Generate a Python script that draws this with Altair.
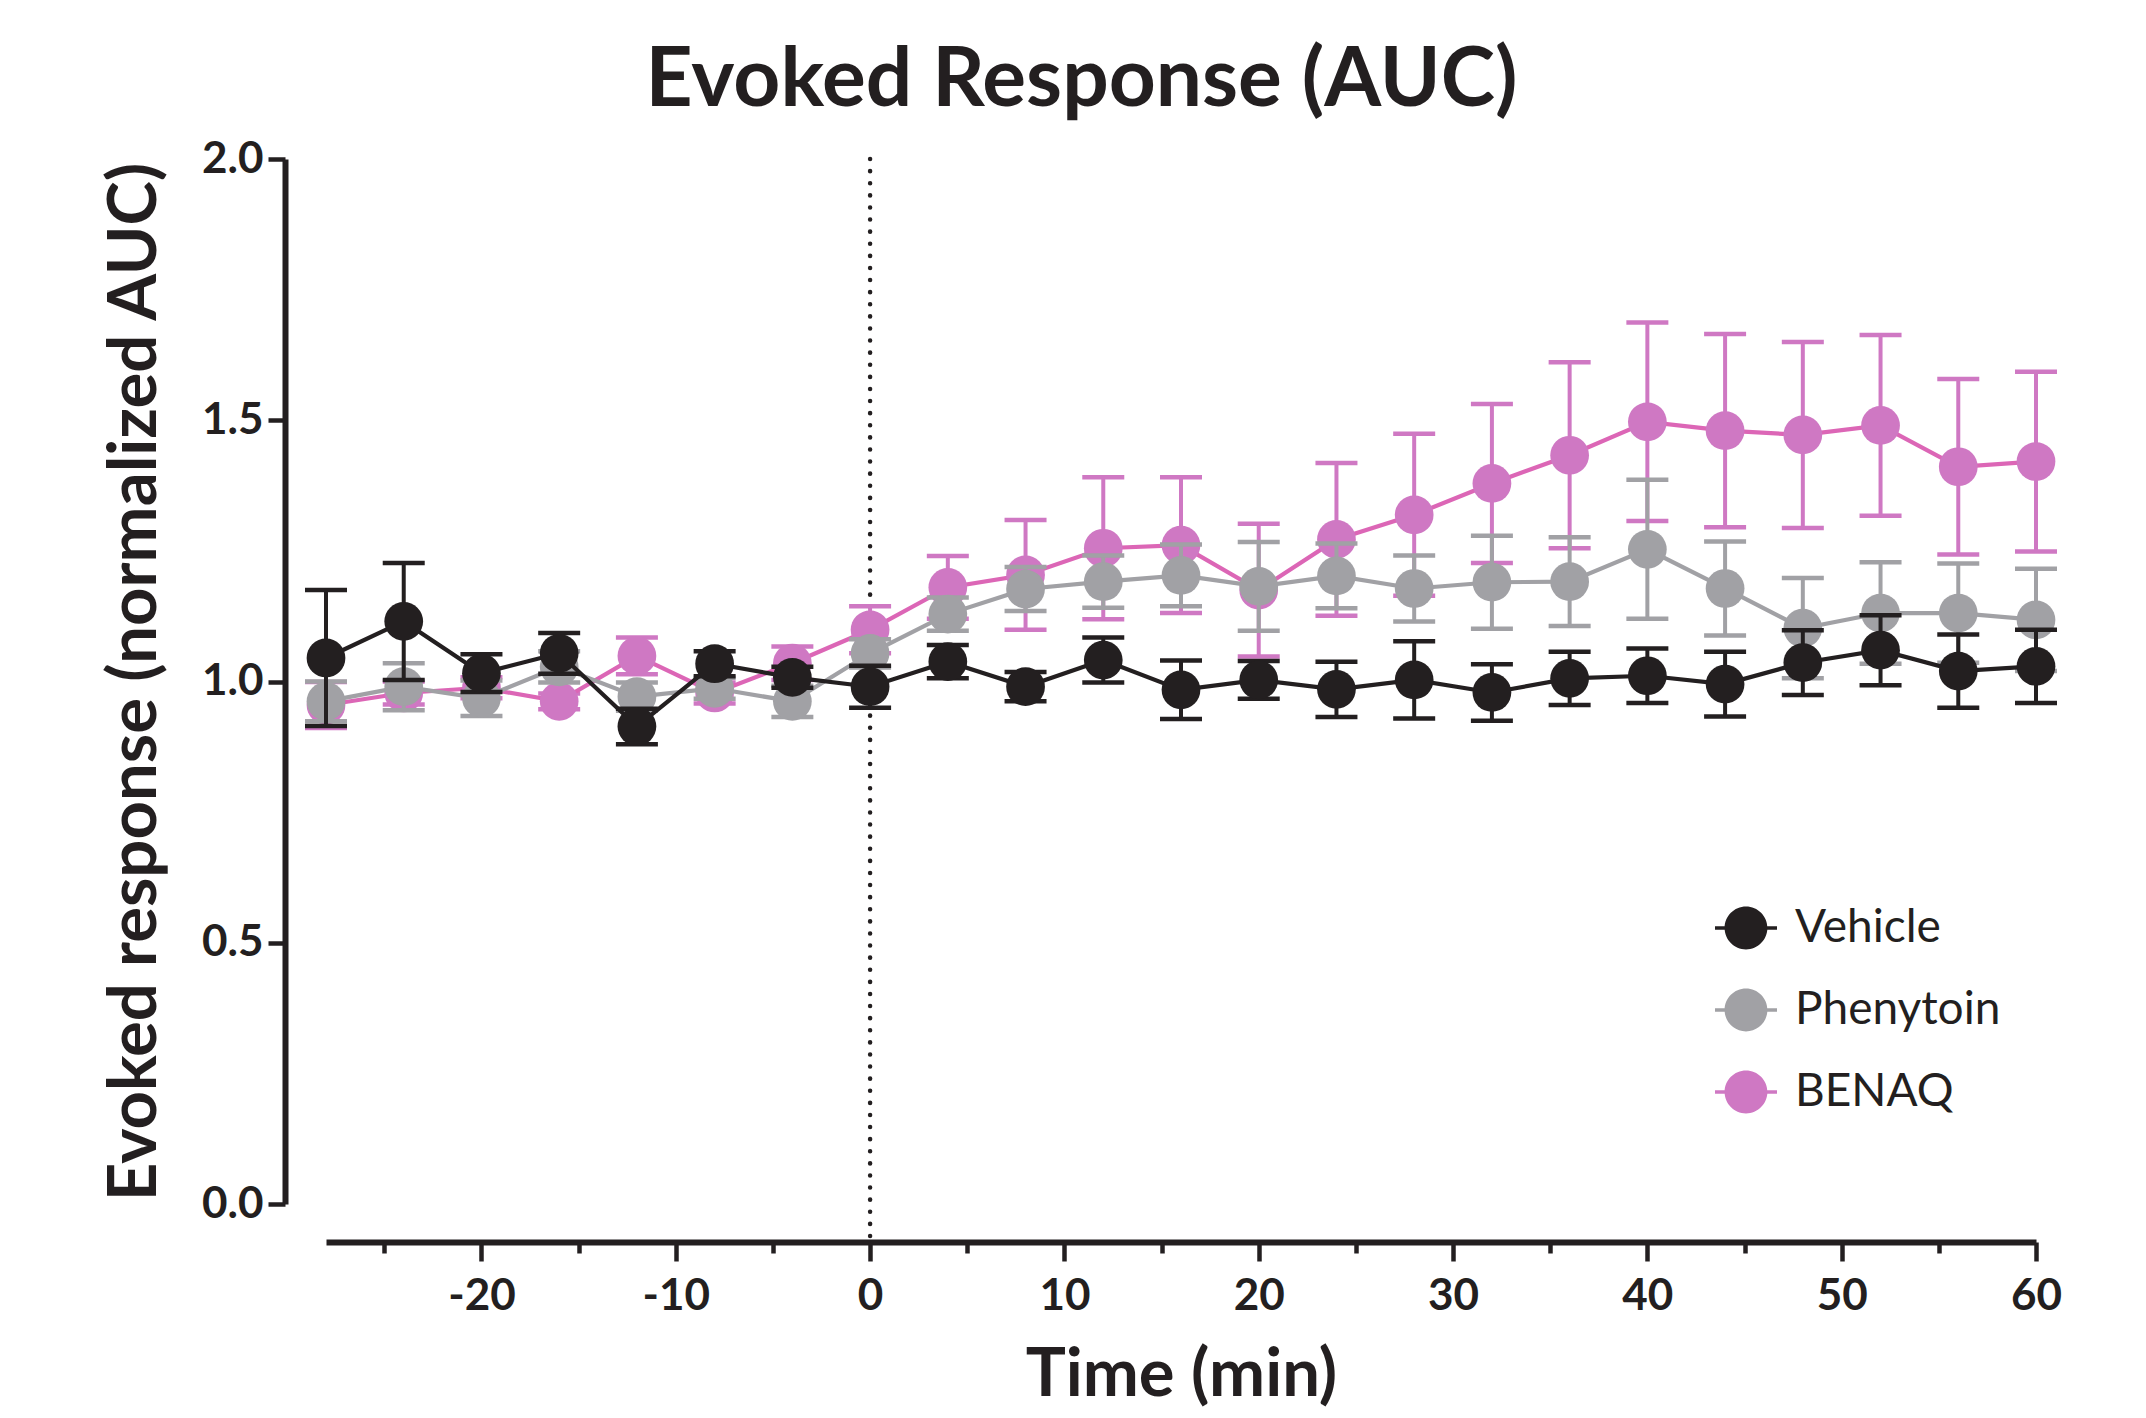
import altair as alt
import pandas as pd

# ---------------- data ----------------
times = [-28, -24, -20, -16, -12, -8, -4, 0, 4, 8, 12, 16, 20, 24, 28, 32,
         36, 40, 44, 48, 52, 56, 60]

vehicle_mean = [1.045, 1.115, 1.016, 1.054, 0.914, 1.034, 1.008, 0.990, 1.038,
                0.990, 1.041, 0.984, 1.003, 0.985, 1.003, 0.979, 1.006, 1.011,
                0.995, 1.036, 1.060, 1.020, 1.029]
vehicle_sem = [0.130, 0.112, 0.036, 0.039, 0.034, 0.024, 0.020, 0.040, 0.032,
               0.028, 0.043, 0.056, 0.036, 0.053, 0.074, 0.054, 0.051, 0.052,
               0.062, 0.062, 0.067, 0.070, 0.070]

phenytoin_mean = [0.962, 0.990, 0.968, 1.028, 0.971, 0.987, 0.962, 1.054, 1.129,
                  1.177, 1.191, 1.203, 1.182, 1.202, 1.178, 1.190, 1.191, 1.253,
                  1.178, 1.102, 1.131, 1.131, 1.118]
phenytoin_sem = [0.038, 0.045, 0.034, 0.030, 0.027, 0.020, 0.030, 0.027, 0.032,
                 0.042, 0.050, 0.059, 0.085, 0.062, 0.063, 0.089, 0.085, 0.133,
                 0.090, 0.096, 0.097, 0.095, 0.098]

benaq_mean = [0.955, 0.978, 0.988, 0.962, 1.049, 0.978, 1.035, 1.099, 1.180,
              1.204, 1.255, 1.261, 1.175, 1.272, 1.319, 1.379, 1.433, 1.497,
              1.480, 1.472, 1.490, 1.411, 1.421]
benaq_sem = [0.044, 0.022, 0.020, 0.015, 0.035, 0.020, 0.032, 0.045, 0.060,
             0.105, 0.136, 0.130, 0.127, 0.146, 0.155, 0.152, 0.178, 0.190,
             0.185, 0.178, 0.173, 0.168, 0.172]

series_names = ["Vehicle", "Phenytoin", "BENAQ"]
marker_colors = ["#231F20", "#A1A1A5", "#CF78C3"]
line_colors = ["#231F20", "#A1A1A5", "#DC66B6"]

x_major = [-20, -10, 0, 10, 20, 30, 40, 50, 60]
x_minor = [-25, -15, -5, 5, 15, 25, 35, 45, 55]
y_ticks = [0.0, 0.5, 1.0, 1.5, 2.0]

# ---------------- table ----------------
rows = []
for name, means, sems in [("Vehicle", vehicle_mean, vehicle_sem),
                          ("Phenytoin", phenytoin_mean, phenytoin_sem),
                          ("BENAQ", benaq_mean, benaq_sem)]:
    for t, m, s in zip(times, means, sems):
        rows.append({"series": name, "time": t, "mean": m,
                     "lo": m - s, "hi": m + s})
df = pd.DataFrame(rows)

vline_df = pd.DataFrame({"time": [0], "ytop": [2.0], "ybot": [-0.073]})

FONT = "Lato"
INK = "#231F20"
W, H = 1710, 1045

xscale = alt.Scale(domain=[-28, 60], nice=False, zero=False)
yscale = alt.Scale(domain=[0, 2], nice=False, zero=False)
cscale = alt.Scale(domain=series_names, range=marker_colors)

x_axis = alt.Axis(
    values=x_major, title="Time (min)", grid=False, orient="bottom",
    labelExpr="'' + datum.value",
    labelFlush=False, labelOverlap=False, labelAngle=0,
    offset=38, domainWidth=6, domainColor=INK,
    tickColor=INK, tickWidth=4.5, tickSize=19,
    labelFont=FONT, labelFontSize=44, labelFontWeight="bold", labelColor=INK,
    labelPadding=13,
    titleFont=FONT, titleFontSize=67, titleFontWeight="bold", titleColor=INK,
    titlePadding=24,
)
x_minor_axis = alt.Axis(
    values=x_minor, title=None, grid=False, orient="bottom", labels=False,
    domain=False, offset=38, tickColor=INK, tickWidth=4.5, tickSize=11,
)
y_axis = alt.Axis(
    values=y_ticks, format=".1f", title="Evoked response (normalized AUC)",
    grid=False, offset=41, domainWidth=6, domainColor=INK,
    tickColor=INK, tickWidth=4.5, tickSize=17,
    labelFont=FONT, labelFontSize=44, labelFontWeight="bold", labelColor=INK,
    labelPadding=5,
    titleFont=FONT, titleFontSize=67, titleFontWeight="bold", titleColor=INK,
    titlePadding=32,
)

LEGEND_PATH = ("M-1,-0.06H1V0.06H-1Z "
               "M-0.69,0A0.69,0.69,0,1,1,0.69,0A0.69,0.69,0,1,1,-0.69,0Z")

legend = alt.Legend(
    title=None, orient="none", legendX=1389, legendY=738,
    symbolType=LEGEND_PATH, symbolSize=3844, symbolStrokeWidth=0,
    symbolOpacity=1, labelFont=FONT, labelFontSize=46, labelColor=INK,
    labelOffset=18, labelLimit=500, rowPadding=28, padding=0,
)


def yenc(field):
    return alt.Y(field, type="quantitative", scale=yscale, axis=y_axis)


layers = []
vline = alt.Chart(vline_df).mark_rule(
    color=INK, strokeWidth=4.5, strokeDash=[0.1, 12], strokeCap="round"
).encode(
    x=alt.X("time:Q", scale=xscale, axis=x_axis),
    y=yenc("ytop"),
    y2="ybot:Q",
)
minor = alt.Chart(vline_df).mark_rule(opacity=0).encode(
    x=alt.X("time:Q", scale=xscale, axis=x_minor_axis),
    y=yenc("ytop"),
)
layers += [vline, minor]

for name in ["BENAQ", "Phenytoin", "Vehicle"]:
    i = series_names.index(name)
    mc = marker_colors[i]
    lc = line_colors[i]
    base = alt.Chart(df).transform_filter(alt.datum.series == name)
    xenc = alt.X("time:Q", scale=xscale, axis=None)
    err = base.mark_rule(color=mc, strokeWidth=4).encode(
        x=xenc, y=yenc("lo"), y2="hi:Q")
    cap_hi = base.mark_tick(color=mc, orient="horizontal", size=42,
                            thickness=4.5, opacity=1).encode(
        x=xenc, y=yenc("hi"))
    cap_lo = base.mark_tick(color=mc, orient="horizontal", size=42,
                            thickness=4.5, opacity=1).encode(
        x=xenc, y=yenc("lo"))
    line = base.mark_line(color=lc, strokeWidth=4.2).encode(
        x=xenc, y=yenc("mean"))
    pts = base.mark_point(filled=True, size=1500, opacity=1, shape="circle",
                          strokeWidth=0).encode(
        x=xenc, y=yenc("mean"),
        color=alt.Color("series:N", scale=cscale, legend=legend),
    )
    layers += [err, cap_hi, cap_lo, line, pts]

chart = alt.layer(*layers).resolve_axis(x="independent").properties(
    width=W, height=H,
    title=alt.TitleParams(
        "Evoked Response (AUC)", font=FONT, fontSize=82, fontWeight="bold",
        color=INK, anchor="middle", frame="bounds", offset=14),
    autosize=alt.AutoSizeParams(type="none"),
    padding={"left": 318, "top": 151, "right": 102, "bottom": 206},
).configure(background="white").configure_view(stroke=None)

chart.save("out.html", embed_options={"renderer": "svg", "actions": False})
